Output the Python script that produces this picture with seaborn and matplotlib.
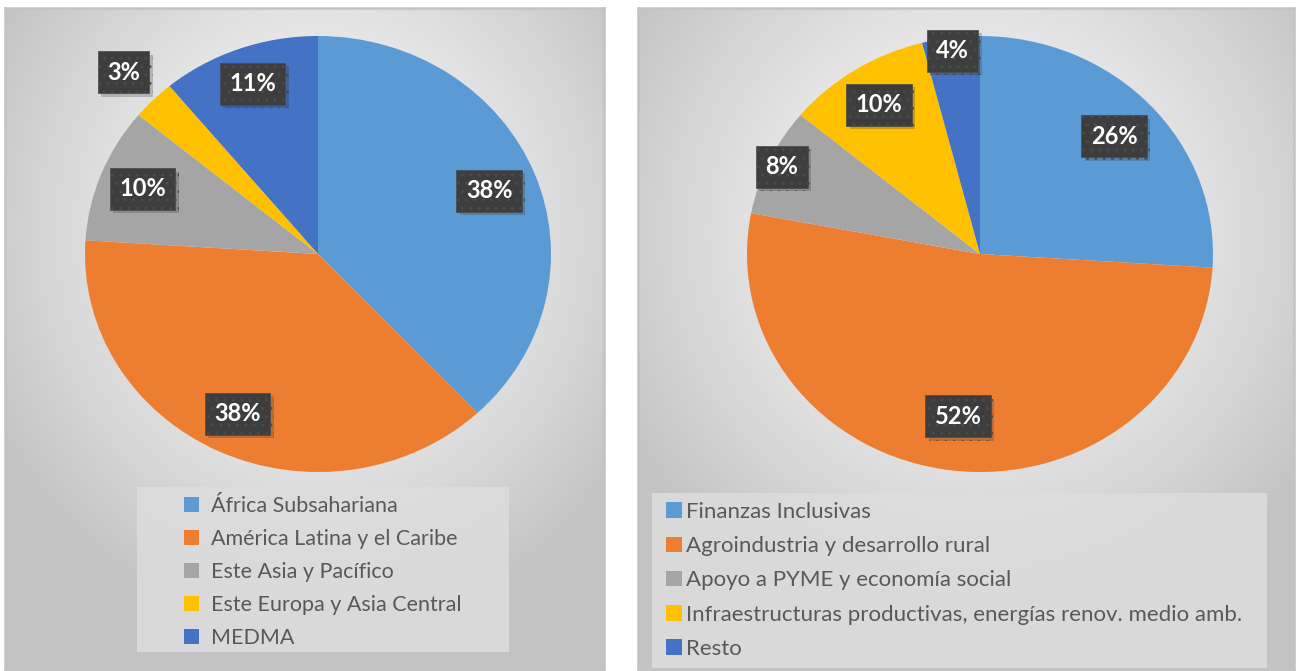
import numpy as np
import matplotlib
matplotlib.use("Agg")
import matplotlib.pyplot as plt
import matplotlib.patheffects as pe
from matplotlib.patches import Rectangle
import seaborn as sns

# data
regiones = ["África Subsahariana", "América Latina y el Caribe", "Este Asia y Pacífico",
            "Este Europa y Asia Central", "MEDMA"]
pct_regiones = [38, 38, 10, 3, 11]

sectores = ["Finanzas Inclusivas", "Agroindustria y desarrollo rural",
            "Apoyo a PYME y economía social",
            "Infraestructuras productivas, energías renov. medio amb.", "Resto"]
pct_sectores = [26, 52, 8, 10, 4]

colores = sns.color_palette(["#5B9BD5", "#ED7D31", "#A5A5A5", "#FFC000", "#4472C4"])

# label distance from centre (fraction of radius), per slice
dist_regiones = [0.79, 0.81, 0.81, 1.18, 0.83]
dist_sectores = [0.79, 0.75, 0.94, 0.81, 0.94]

sns.set_theme(style="white")
plt.rcParams['font.family'] = ['Lato', 'DejaVu Sans']

W, H = 1298, 671
fig = plt.figure(figsize=(W / 100, H / 100), dpi=100)
fig.patch.set_facecolor("white")


def fig_rect(x0, y0, x1, y1):
    # pixel box (top-left origin) -> figure fraction [l, b, w, h]
    return [x0 / W, 1 - y1 / H, (x1 - x0) / W, (y1 - y0) / H]


def panel(x0, y0, x1, y1, cx, cy):
    ax = fig.add_axes(fig_rect(x0, y0, x1, y1), zorder=0)
    w, h = x1 - x0, y1 - y0
    xx, yy = np.meshgrid(np.arange(w), np.arange(h))
    r = np.sqrt(((xx - (cx - x0)) / (w * 0.62)) ** 2 + ((yy - (cy - y0)) / (h * 0.62)) ** 2)
    r = np.clip(r, 0, 1)
    val = 0.985 - 0.22 * r ** 1.3
    img = np.dstack([val, val, val])
    ax.imshow(img, aspect="auto", extent=(0, 1, 0, 1), interpolation="bilinear")
    ax.set_xlim(0, 1)
    ax.set_ylim(0, 1)
    ax.set_xticks([])
    ax.set_yticks([])
    for s in ax.spines.values():
        s.set_color("#c3c3c3")
        s.set_linewidth(1.8)
    return ax


def pie(values, names, dists, x0, x1, y0, y1, legend_box, legend_pos, handle_gap,
        spacing, fsize):
    ax = fig.add_axes(fig_rect(x0, y0, x1, y1), zorder=2)
    ax.set_facecolor("none")
    wedges, _ = ax.pie(values, colors=colores, startangle=90, counterclock=False,
                       radius=1.0, wedgeprops=dict(linewidth=0))
    ax.set_aspect("auto")
    ax.set_xlim(-1, 1)
    ax.set_ylim(-1, 1)
    ax.axis("off")
    for w, v, d in zip(wedges, values, dists):
        ang = np.deg2rad((w.theta1 + w.theta2) / 2)
        t = ax.text(d * np.cos(ang), d * np.sin(ang), f"{v}%", ha="center", va="center",
                    color="white", fontsize=17, fontweight="bold", zorder=5,
                    bbox=dict(boxstyle="square,pad=0.4", fc="#3d3d3d", ec="#4a4a4a",
                              hatch="..", lw=0.5))
        t.get_bbox_patch().set_path_effects(
            [pe.SimplePatchShadow(offset=(2.5, -2.5), shadow_rgbFace="#333333", alpha=0.25),
             pe.Normal()])

    lx0, ly0, lx1, ly1 = legend_box
    fig.patches.append(Rectangle((lx0 / W, 1 - ly1 / H), (lx1 - lx0) / W, (ly1 - ly0) / H,
                                 transform=fig.transFigure, fc="#dddddd", ec="none",
                                 alpha=0.85, zorder=1))
    leg = fig.legend(wedges, names, loc="upper left",
                     bbox_to_anchor=(legend_pos[0] / W, 1 - legend_pos[1] / H),
                     frameon=False, fontsize=fsize, labelcolor="#595959",
                     handlelength=0.7, handleheight=0.7, handletextpad=handle_gap,
                     labelspacing=spacing, borderaxespad=0, borderpad=0)
    leg.set_zorder(3)
    return ax


panel(5, 8, 604, 670, 318, 230)
panel(638, 8, 1294, 670, 975, 230)

pie(pct_regiones, regiones, dist_regiones, 85, 551, 36, 472,
    (137, 487, 509, 652), (184, 496), 0.55, 0.6, 15.5)
pie(pct_sectores, sectores, dist_sectores, 747, 1213, 36, 472,
    (652, 493, 1267, 668), (666, 502), 0.2, 0.64, 16)

fig.savefig("out.png", dpi=100)
